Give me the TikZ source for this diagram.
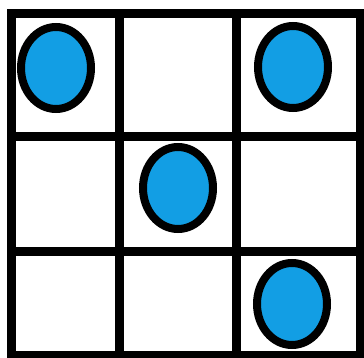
\documentclass[tikz,border=0pt]{standalone}
\definecolor{dotblue}{RGB}{18,158,228}
\tikzset{gridline/.style={line width=9pt, black, line cap=rect},
  dot/.style={fill=dotblue, draw=black, line width=8pt}}
\begin{document}
\begin{tikzpicture}[x=1pt,y=-1pt]
\useasboundingbox (0,0) rectangle (364,358);
\fill[white] (0,0) rectangle (364,358);
% grid
\foreach \x in {11.5,119.5,236.5,360} \draw[gridline] (\x,14) -- (\x,355);
\foreach \y in {14,137,251,355} \draw[gridline] (11.5,\y) -- (360,\y);
% dots
\draw[dot] (56,68) ellipse [x radius=35, y radius=41];
\draw[dot] (293,67) ellipse [x radius=35, y radius=41];
\draw[dot] (178,188) ellipse [x radius=35, y radius=41];
\draw[dot] (292,304) ellipse [x radius=35, y radius=41];
\end{tikzpicture}
\end{document}
